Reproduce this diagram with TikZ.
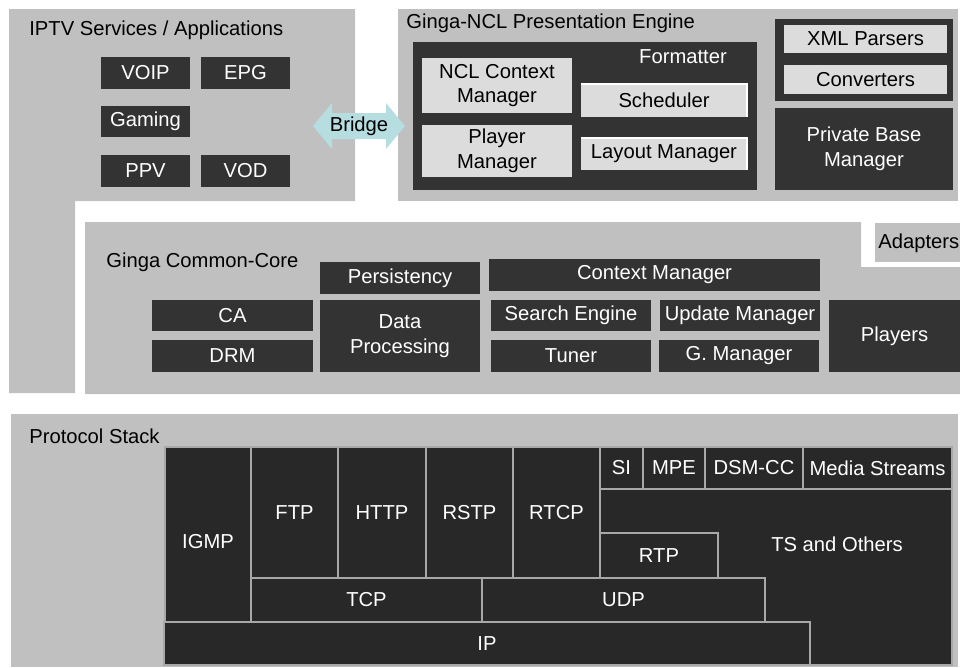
\documentclass[tikz,border=0pt]{standalone}
\usepackage{fontspec}
\setmainfont{Liberation Sans}
\definecolor{panelgray}{HTML}{C0C0C0}
\definecolor{darkbox}{HTML}{333333}
\definecolor{protobox}{HTML}{282828}
\definecolor{protoline}{HTML}{A8A8A8}
\definecolor{lightbox}{HTML}{DCDCDC}
\definecolor{bridgecol}{HTML}{B6DDE0}

\begin{document}
\begin{tikzpicture}[x=0.02cm,y=-0.02cm,
  every node/.style={font=\fontsize{11.5}{14}\selectfont},
  spanbox/.style n args={4}{minimum width={(#3-#1)*0.02cm}, minimum height={(#4-#2)*0.02cm},
    at={({(#1+#3)/2},{(#2+#4)/2})}},
  box/.style={inner sep=0pt, outer sep=0pt, align=center},
  dark/.style={box, fill=darkbox, text=white},
  light/.style={box, fill=lightbox, text=black},
  proto/.style={box, fill=protobox, draw=protoline, line width=0.6pt, text=white},
  title/.style={anchor=west, text=black, inner sep=0pt}]
\useasboundingbox (0,0) rectangle (960,667);

% IPTV services / applications
\fill[panelgray] (9,9) -- (355,9) -- (355,201) -- (75,201) -- (75,393) -- (9,393) -- cycle;
\node[title] (iptv) at (29,30) {IPTV Services / Applications};
\node[dark, spanbox={101}{57}{190}{89}] (voip) {VOIP};
\node[dark, spanbox={201}{57}{290}{89}] (epg) {EPG};
\node[dark, spanbox={101}{106}{190}{137}] (gaming) {Gaming};
\node[dark, spanbox={101}{155}{190}{187}] (ppv) {PPV};
\node[dark, spanbox={201}{155}{290}{187}] (vod) {VOD};

% Ginga-NCL presentation engine
\fill[panelgray] (398,9) rectangle (958,201);
\node[title] (ncl) at (406,23) {Ginga-NCL Presentation Engine};
\node[dark, spanbox={413}{42}{757}{190}] (formatter) {};
\node[text=white] (fmtlabel) at (683,57) {Formatter};
\node[light, spanbox={422}{58}{572}{113}] (nclctx) {NCL Context\\Manager};
\node[light, spanbox={422}{125}{572}{177}] (playermgr) {Player\\Manager};
\node[light, spanbox={581}{84}{747}{117}] (sched) {Scheduler};
\node[light, spanbox={581}{138}{747}{170}] (layout) {Layout Manager};
\draw[white, line width=0.8pt] (sched.north west) -- (sched.north east) -- (sched.south east);
\draw[white, line width=0.8pt] (layout.north west) -- (layout.north east) -- (layout.south east);
\node[dark, spanbox={775}{19}{953}{101}] (parsing) {};
\node[light, spanbox={784}{25}{947}{53}] (xml) {XML Parsers};
\node[light, spanbox={784}{65}{947}{94}] (conv) {Converters};
\node[dark, spanbox={775}{108}{953}{190}] (pbm) {Private Base\\Manager};

% bridge between the two
\fill[bridgecol] (313,126) -- (332,103) -- (332,113) -- (386,113) -- (386,103) -- (405,126)
  -- (386,149) -- (386,139) -- (332,139) -- (332,149) -- cycle;
\node (bridge) at (359,126) {Bridge};

% Ginga common-core
\fill[panelgray] (85,222) -- (861,222) -- (861,267) -- (960,267) -- (960,394) -- (85,394) -- cycle;
\fill[panelgray] (875,223) rectangle (960,262);
\node[title] (adapters) at (878,243) {Adapters};
\node[title] (core) at (106,262) {Ginga Common-Core};
\node[dark, spanbox={320}{262}{480}{294}] (persist) {Persistency};
\node[dark, spanbox={489}{259}{820}{291}] (ctxmgr) {Context Manager};
\node[dark, spanbox={152}{300}{313}{331}] (ca) {CA};
\node[dark, spanbox={152}{340}{313}{372}] (drm) {DRM};
\node[dark, spanbox={320}{300}{480}{372}] (dataproc) {Data\\Processing};
\node[dark, spanbox={491}{300}{651}{331}] (search) {Search Engine};
\node[dark, spanbox={660}{300}{820}{331}] (update) {Update Manager};
\node[dark, spanbox={491}{340}{651}{372}] (tuner) {Tuner};
\node[dark, spanbox={659}{340}{819}{372}] (gmgr) {G. Manager};
\node[dark, spanbox={829}{300}{960}{372}] (players) {Players};

% protocol stack
\fill[panelgray] (11,414) rectangle (958,667);
\node[title] (stack) at (29,436) {Protocol Stack};
\node[proto, spanbox={600}{489}{952}{665}] (ts) {};
\node[text=white] (tslabel) at (837,544) {TS and Others};
\node[proto, spanbox={165}{447}{251}{622}] (igmp) {\raisebox{-16pt}{IGMP}};
\node[proto, spanbox={251}{447}{338}{578}] (ftp) {FTP};
\node[proto, spanbox={338}{447}{426}{578}] (http) {HTTP};
\node[proto, spanbox={426}{447}{513}{578}] (rstp) {RSTP};
\node[proto, spanbox={513}{447}{600}{578}] (rtcp) {RTCP};
\node[proto, spanbox={600}{447}{643}{489}] (si) {SI};
\node[proto, spanbox={643}{447}{705}{489}] (mpe) {MPE};
\node[proto, spanbox={705}{447}{803}{489}] (dsmcc) {DSM-CC};
\node[proto, spanbox={803}{447}{952}{489}] (media) {Media Streams};
\node[proto, spanbox={600}{533}{718}{578}] (rtp) {RTP};
\node[proto, spanbox={251}{578}{482}{622}] (tcp) {TCP};
\node[proto, spanbox={482}{578}{765}{622}] (udp) {UDP};
\node[proto, spanbox={164}{622}{810}{665}] (ip) {IP};
\end{tikzpicture}
\end{document}
